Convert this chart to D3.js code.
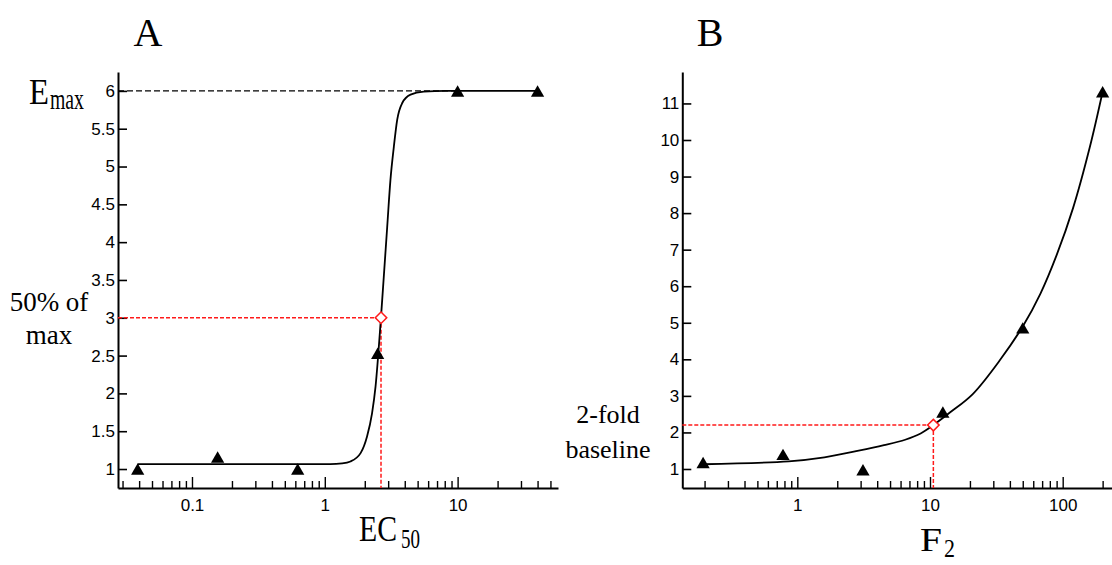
<!DOCTYPE html>
<html>
<head>
<meta charset="utf-8">
<script src="https://cdn.jsdelivr.net/npm/d3@7"></script>
<style>
body { margin: 0; background: #fff; }
svg text { font-family: "Liberation Sans", Arial, sans-serif; }
.serif { font-family: "Liberation Serif", "Times New Roman", serif; }
.tick text { font-size: 17px; }
</style>
</head>
<body>
<svg id="chart" width="1112" height="565"></svg>
<script>
// ---- panel A: response vs concentration (EC50) ----
var concA = [0.039, 0.156, 0.625, 2.5, 10, 40];
var respA = [1.0, 1.16, 1.0, 2.53, 6.0, 6.0];
// fitted curve
var fitAx = [0.039, 0.5, 1.1, 1.35, 1.56, 1.86, 2.08, 2.27, 2.41, 2.63, 2.78, 2.95, 3.12, 3.31, 3.51, 3.83, 4.42, 5.56, 8.1, 40];
var fitAy = [1.065, 1.065, 1.066, 1.075, 1.10, 1.21, 1.43, 1.74, 2.09, 2.93, 3.54, 4.2, 4.82, 5.26, 5.62, 5.84, 5.95, 5.99, 6.0, 6.0];
var ec50Point = [2.65, 3.0];
var emaxValue = 6;
var yTicksA = [1, 1.5, 2, 2.5, 3, 3.5, 4, 4.5, 5, 5.5, 6];
var xLabelsA = [0.1, 1, 10];

// ---- panel B: response vs F2 ----
var concB = [0.195, 0.78, 3.125, 12.5, 50, 200];
var respB = [1.18, 1.40, 0.98, 2.56, 4.86, 11.32];
var fitBx = [0.195, 0.86, 1.6, 2.9, 4.5, 6.5, 8.5, 10.6, 14.2, 21, 34, 50, 68, 90, 120, 160, 200];
var fitBy = [1.13, 1.21, 1.32, 1.5, 1.65, 1.80, 1.97, 2.2, 2.55, 3.05, 4.0, 4.9, 5.8, 6.85, 8.15, 9.8, 11.32];
var f2Point = [10.6, 2.2];
var yTicksB = [1, 2, 3, 4, 5, 6, 7, 8, 9, 10, 11];
var xLabelsB = [1, 10, 100];

var svg = d3.select("#chart");
svg.append("rect").attr("width", 1112).attr("height", 565).attr("fill", "#fff");

function drawPanel(p) {
    var x = d3.scaleLog().domain(p.xDomain).range(p.xRange);
    var y = d3.scaleLinear().domain(p.yDomain).range([488, 72]);
    var g = svg.append("g");

    // axes
    var isLabel = function (d) {
        return p.xLabels.some(function (v) { return Math.abs(v - d) < 1e-9 * v; });
    };
    var xAxis = g.append("g")
        .attr("transform", "translate(0,488)")
        .call(d3.axisBottom(x)
            .tickValues(x.ticks())
            .tickSizeInner(-11)
            .tickSizeOuter(0)
            .tickPadding(11)
            .tickFormat(function (d) { return isLabel(d) ? d3.format("~g")(d) : ""; }));
    xAxis.selectAll(".tick line")
        .attr("y2", function (d) { return isLabel(d) ? -11 : -7; })
        .attr("stroke-width", 1.4);
    var yAxis = g.append("g")
        .attr("transform", "translate(" + p.xRange[0] + ",0)")
        .call(d3.axisLeft(y)
            .tickValues(p.yTicks)
            .tickSizeInner(-9)
            .tickSizeOuter(0)
            .tickPadding(3)
            .tickFormat(d3.format("~g")));
    yAxis.selectAll(".tick line").attr("stroke-width", 1.6);
    g.selectAll(".domain").attr("stroke-width", 2);
    g.selectAll(".tick text").attr("fill", "#000");

    // guide lines
    var red = "#ff1a1a";
    g.append("line")
        .attr("x1", p.xRange[0]).attr("x2", x(p.mark[0]))
        .attr("y1", y(p.mark[1])).attr("y2", y(p.mark[1]))
        .attr("stroke", red).attr("stroke-width", 1.5).attr("stroke-dasharray", "4,2");
    g.append("line")
        .attr("x1", x(p.mark[0])).attr("x2", x(p.mark[0]))
        .attr("y1", y(p.mark[1])).attr("y2", 488)
        .attr("stroke", red).attr("stroke-width", 1.5).attr("stroke-dasharray", "4,2");
    if (p.topLine) {
        g.append("line")
            .attr("x1", p.xRange[0]).attr("x2", x(p.topLine[0]))
            .attr("y1", y(p.topLine[1])).attr("y2", y(p.topLine[1]))
            .attr("stroke", "#000").attr("stroke-width", 1.2).attr("stroke-dasharray", "6,3");
    }

    // fitted curve
    var line = d3.line()
        .x(function (d) { return x(d[0]); })
        .y(function (d) { return y(d[1]); })
        .curve(p.curve);
    g.append("path")
        .datum(d3.zip(p.fitX, p.fitY))
        .attr("d", line)
        .attr("fill", "none").attr("stroke", "#000").attr("stroke-width", 1.8);

    // data points
    var tri = d3.symbol().type(d3.symbolTriangle).size(76);
    var off = Math.sqrt(76 / (Math.sqrt(3) * 3)) / 2;
    g.selectAll("path.pt")
        .data(d3.zip(p.ptX, p.ptY))
        .enter().append("path")
        .attr("class", "pt")
        .attr("d", tri)
        .attr("transform", function (d) { return "translate(" + x(d[0]) + "," + (y(d[1]) + off) + ")"; })
        .attr("fill", "#000");

    // marker diamond
    g.append("path")
        .attr("d", d3.symbol().type(d3.symbolSquare).size(66)())
        .attr("transform", "translate(" + x(p.mark[0]) + "," + y(p.mark[1]) + ") rotate(45)")
        .attr("fill", "#fff").attr("stroke", red).attr("stroke-width", 1.5);
}

drawPanel({
    xDomain: [0.02773, 57.0], xRange: [118, 558], yDomain: [0.749, 6.25],
    yTicks: yTicksA, xLabels: xLabelsA,
    fitX: fitAx, fitY: fitAy, ptX: concA, ptY: respA,
    mark: ec50Point, topLine: [10, emaxValue], curve: d3.curveMonotoneX
});
drawPanel({
    xDomain: [0.1359, 235.3], xRange: [682.3, 1112], yDomain: [0.48, 11.86],
    yTicks: yTicksB, xLabels: xLabelsB,
    fitX: fitBx, fitY: fitBy, ptX: concB, ptY: respB,
    mark: f2Point, curve: d3.curveCatmullRom.alpha(0.5)
});

// text labels (serif)
function label(txt, x, y, size, len, anchor) {
    var t = svg.append("text").attr("class", "serif")
        .attr("x", x).attr("y", y)
        .attr("font-size", size).attr("fill", "#000")
        .attr("text-anchor", anchor || "start")
        .text(txt);
    if (len) t.attr("textLength", len).attr("lengthAdjust", "spacingAndGlyphs");
    return t;
}
label("A", 148, 46, 40, null, "middle");
label("B", 710, 46, 40, null, "middle");
label("E", 29, 104, 35, 20);
label("max", 50, 109, 29, 34);
label("50% of", 49, 311, 27, null, "middle");
label("max", 49, 344, 27, null, "middle");
label("EC", 359, 541, 35, 38);
label("50", 401, 548, 28, 19);
label("F", 920, 551, 34, 22);
label("2", 944, 557, 26, 11);
label("2-fold", 608, 423, 26, null, "middle");
label("baseline", 608, 458, 26, null, "middle");
</script>
</body>
</html>
